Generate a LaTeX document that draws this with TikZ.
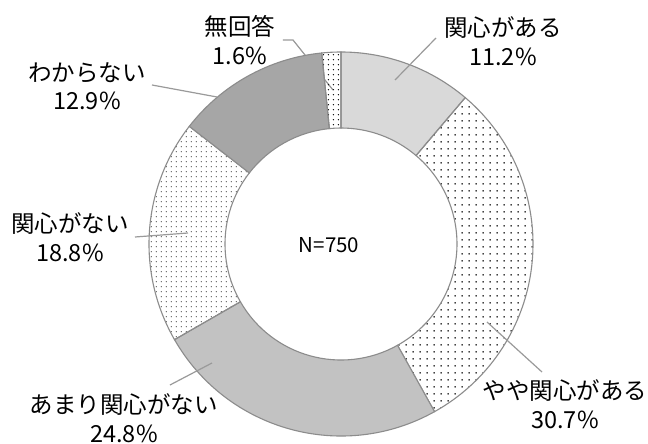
\documentclass[tikz,border=0pt]{standalone}
\usepackage{fontspec}
\setmainfont{Noto Sans CJK JP}
\usetikzlibrary{patterns.meta}

\definecolor{ringedge}{HTML}{8C8C8C}
\definecolor{leadgray}{HTML}{9A9A9A}
\definecolor{lightfill}{HTML}{D9D9D9}
\definecolor{midfill}{HTML}{C2C2C2}
\definecolor{darkfill}{HTML}{A6A6A6}

\tikzdeclarepattern{name=widedots, type=uncolored,
  bounding box={(0pt,0pt) and (6.6pt,6.6pt)}, tile size={(6.6pt,6.6pt)},
  code={\fill (3.3pt,3.3pt) circle (0.85pt);}}
\tikzdeclarepattern{name=finedots, type=uncolored,
  bounding box={(0pt,0pt) and (4.8pt,4.8pt)}, tile size={(4.8pt,4.8pt)},
  code={\fill (2.4pt,2.4pt) circle (0.7pt);}}

% one piece of the ring: start angle, end angle, style
\newcommand{\ringpart}[3]{%
  \path[seg,#3] (#1:192pt) arc[start angle=#1,end angle=#2,radius=192pt]
    -- (#2:116pt) arc[start angle=#2,end angle=#1,radius=116pt] -- cycle;}

\tikzset{
  seg/.style={draw=ringedge, line width=1.1pt},
  leader/.style={draw=leadgray, line width=1.2pt},
  lbl/.style={align=center, inner sep=0pt, font=\fontsize{23.5}{28.5}\selectfont},
}

\begin{document}
\begin{tikzpicture}[x=1pt,y=1pt]
  \fill[white] (-341,-200) rectangle (307,244);
  \useasboundingbox (-341,-200) rectangle (307,244);

  % leader of the thin slice goes under the ring
  \coordinate (mu-a) at (-58,204);
  \coordinate (mu-b) at (-48,204);
  \coordinate (mu-c) at (-8,154);
  \draw[leader] (mu-a) -- (mu-b) -- (mu-c);

  % ring, clockwise from the top
  \ringpart{90}{49.68}{fill=lightfill}
  \ringpart{49.68}{-60.84}{pattern=widedots, pattern color=black}
  \ringpart{-60.84}{-150.12}{fill=midfill}
  \ringpart{-150.12}{-217.8}{pattern=finedots, pattern color=black!60}
  \ringpart{-217.8}{-264.24}{fill=darkfill}
  \ringpart{-264.24}{-270}{pattern=finedots, pattern color=black}

  \node (center) at (-12,-1) {\fontsize{20.5}{24}\selectfont N=750};

  % labels
  \node[lbl] (kanshin) at (162,203) {関心がある\\11.2\%};
  \node[lbl] (yaya) at (224,-160) {やや関心がある\\30.7\%};
  \node[lbl] (amari) at (-217,-174) {あまり関心がない\\24.8\%};
  \node[lbl] (nai) at (-271,7) {関心がない\\18.8\%};
  \node[lbl] (wakaranai) at (-254,158) {わからない\\12.9\%};
  \node[lbl] (mukaitou) at (-101,204) {無回答\\1.6\%};

  % leaders
  \coordinate (ka-in) at (54,164);   \coordinate (ka-out) at (95,206);
  \coordinate (ya-in) at (146,-78);  \coordinate (ya-out) at (201,-128);
  \coordinate (am-in) at (-129,-119);\coordinate (am-out) at (-171,-141);
  \coordinate (na-in) at (-153,11);  \coordinate (na-out) at (-206,7);
  \coordinate (wa-in) at (-124,147); \coordinate (wa-out) at (-189,159);
  \draw[leader] (ka-in) -- (ka-out);
  \draw[leader] (ya-in) -- (ya-out);
  \draw[leader] (am-in) -- (am-out);
  \draw[leader] (na-in) -- (na-out);
  \draw[leader] (wa-in) -- (wa-out);
\end{tikzpicture}
\end{document}
